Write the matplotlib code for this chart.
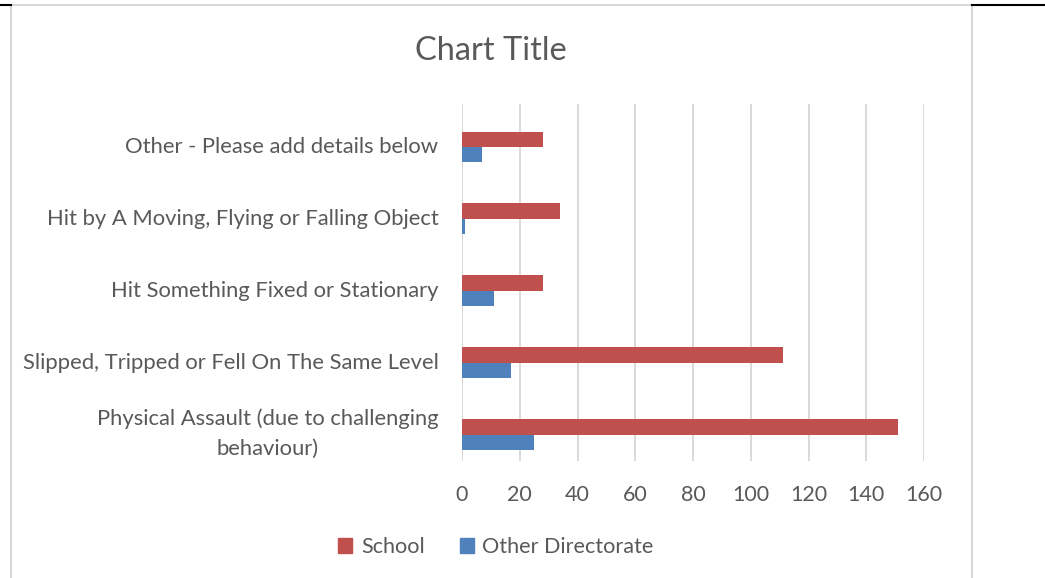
import matplotlib.pyplot as plt
import numpy as np
from matplotlib.lines import Line2D
from matplotlib.patches import Rectangle
from matplotlib.transforms import ScaledTranslation

plt.rcParams['font.family'] = ['Lato', 'DejaVu Sans']

# categories from bottom to top, as drawn
categories = [
    "Physical Assault (due to challenging\nbehaviour)",
    "Slipped, Tripped or Fell On The Same Level",
    "Hit Something Fixed or Stationary",
    "Hit by A Moving, Flying or Falling Object",
    "Other - Please add details below",
]
school = [151, 111, 28, 34, 28]
other_directorate = [25, 17, 11, 1, 7]
x_ticks = [0, 20, 40, 60, 80, 100, 120, 140, 160]

red = "#C0504D"
blue = "#4F81BD"
text_col = "#595959"
grid_col = "#D9D9D9"

fig = plt.figure(figsize=(10.45, 5.78), dpi=100)
ax = fig.add_axes([462 / 1045, 1 - 461 / 578, 462 / 1045, 357 / 578])

y = np.arange(len(categories))
h = 0.215
ax.barh(y + h / 2, school, height=h, color=red, label="School", zorder=3)
ax.barh(y - h / 2, other_directorate, height=h, color=blue,
        label="Other Directorate", zorder=3)

ax.set_xlim(0, 160)
ax.set_ylim(-0.367, 4.598)
ax.set_xticks(x_ticks)
ax.set_yticks(y)
ax.set_yticklabels(categories, multialignment="center", linespacing=1.6)
ax.tick_params(axis="x", length=0, labelsize=15.5, labelcolor=text_col, pad=17)
ax.tick_params(axis="y", length=0, labelsize=15.8, labelcolor=text_col, pad=17)
ax.grid(axis="x", color=grid_col, linewidth=1.4, zorder=0)
for s in ax.spines.values():
    s.set_visible(False)

# nudge category labels up a little (the two-line one a bit more)
for i, lbl in enumerate(ax.get_yticklabels()):
    dy = 8 if i == 0 else 2
    lbl.set_transform(lbl.get_transform() + ScaledTranslation(0, dy / 100, fig.dpi_scale_trans))

fig.text(491 / 1045, 1 - 51 / 578, "Chart Title", ha="center", va="center",
         fontsize=23.5, color=text_col)

handles = [Rectangle((0, 0), 1, 1, color=red), Rectangle((0, 0), 1, 1, color=blue)]
fig.legend(handles, ["School", "Other Directorate"], loc="center",
           bbox_to_anchor=(496 / 1045, 1 - 547 / 578), ncol=2, frameon=False,
           fontsize=15.6, labelcolor=text_col, handlelength=0.65, handleheight=0.65,
           handletextpad=0.4, columnspacing=1.6)

# chart frame and page lines
fig.add_artist(Rectangle((11 / 1045, -0.05), 961 / 1045, 1.05 - 5.5 / 578,
                         transform=fig.transFigure, fill=False,
                         edgecolor="#D0D0D0", linewidth=1.2))
fig.add_artist(Line2D([0, 11 / 1045], [1 - 5 / 578] * 2, color="black", linewidth=1.5))
fig.add_artist(Line2D([972 / 1045, 1], [1 - 5 / 578] * 2, color="black", linewidth=1.5))

fig.savefig("out.png", dpi=100)
